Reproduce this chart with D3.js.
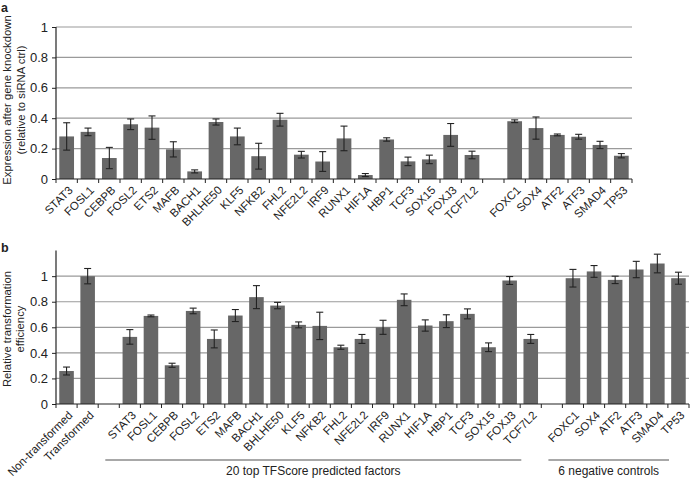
<!DOCTYPE html>
<html><head><meta charset="utf-8">
<script src="https://cdn.jsdelivr.net/npm/d3@7"></script>
<style>
body{margin:0;background:#fff;}
text{font-family:"Liberation Sans",Arial,sans-serif;fill:#222;}
</style></head>
<body><svg id="c" width="690" height="478"></svg>
<script>
// Panel a data
const catsA = ["STAT3","FOSL1","CEBPB","FOSL2","ETS2","MAFB","BACH1","BHLHE50","KLF5","NFKB2","FHL2","NFE2L2","IRF9","RUNX1","HIF1A","HBP1","TCF3","SOX15","FOXJ3","TCF7L2","","FOXC1","SOX4","ATF2","ATF3","SMAD4","TP53"];
const valsA = [0.28,0.31,0.138,0.36,0.338,0.195,0.05,0.375,0.28,0.15,0.39,0.16,0.115,0.267,0.026,0.26,0.116,0.129,0.29,0.158,null,0.38,0.335,0.29,0.278,0.224,0.153];
const errA  = [0.09,0.025,0.07,0.035,0.077,0.05,0.01,0.02,0.055,0.085,0.042,0.022,0.065,0.081,0.01,0.011,0.028,0.028,0.075,0.025,null,0.009,0.073,0.006,0.016,0.024,0.014];
const ticksA = [0,0.2,0.4,0.6,0.8,1];
// Panel b data
const catsB = ["Non-transformed","Transformed","","STAT3","FOSL1","CEBPB","FOSL2","ETS2","MAFB","BACH1","BHLHE50","KLF5","NFKB2","FHL2","NFE2L2","IRF9","RUNX1","HIF1A","HBP1","TCF3","SOX15","FOXJ3","TCF7L2","","FOXC1","SOX4","ATF2","ATF3","SMAD4","TP53"];
const valsB = [0.258,1.0,null,0.525,0.689,0.303,0.728,0.509,0.692,0.836,0.77,0.619,0.611,0.444,0.509,0.6,0.815,0.614,0.648,0.705,0.444,0.966,0.509,null,0.984,1.037,0.971,1.052,1.099,0.984];
const errB  = [0.031,0.06,null,0.057,0.007,0.016,0.022,0.07,0.047,0.09,0.025,0.023,0.107,0.016,0.035,0.055,0.046,0.044,0.05,0.039,0.034,0.031,0.035,null,0.069,0.046,0.029,0.064,0.073,0.047];
const ticksB = [0,0.2,0.4,0.6,0.8,1];
const groupsB = [
  {label:"20 top TFScore predicted factors", from:"STAT3", to:"TCF7L2"},
  {label:"6 negative controls", from:"FOXC1", to:"TP53"}
];

const svg = d3.select("#c");
const barColor = "#676767";

function panel(cfg){
  const g = svg.append("g");
  const idx = cfg.cats.map((d,i)=>i);
  const x = d3.scaleBand().domain(idx).range([cfg.x0,cfg.x1]).paddingInner(0.31).paddingOuter(0.155);
  const step = x.step();
  const y = d3.scaleLinear().domain(cfg.ydom).range(cfg.yr);
  g.selectAll(".grid").data(cfg.ticks.filter(t=>t>0)).enter().append("line")
    .attr("x1",cfg.x0).attr("x2",cfg.x1).attr("y1",d=>y(d)).attr("y2",d=>y(d))
    .attr("stroke","#9a9a9a").attr("stroke-width",1.2);
  const data = idx.filter(i=>cfg.vals[i]!=null);
  g.selectAll(".bar").data(data).enter().append("rect")
    .attr("x",i=>x(i)).attr("width",x.bandwidth())
    .attr("y",i=>y(cfg.vals[i])).attr("height",i=>y(0)-y(cfg.vals[i]))
    .attr("fill",barColor);
  const eg = g.selectAll(".err").data(data).enter().append("g").attr("stroke","#222").attr("stroke-width",1.1);
  const cx = i=>x(i)+x.bandwidth()/2;
  eg.append("line").attr("x1",cx).attr("x2",cx).attr("y1",i=>y(cfg.vals[i]+cfg.errs[i])).attr("y2",i=>y(cfg.vals[i]-cfg.errs[i]));
  eg.append("line").attr("x1",i=>cx(i)-3.5).attr("x2",i=>cx(i)+3.5).attr("y1",i=>y(cfg.vals[i]+cfg.errs[i])).attr("y2",i=>y(cfg.vals[i]+cfg.errs[i]));
  eg.append("line").attr("x1",i=>cx(i)-3.5).attr("x2",i=>cx(i)+3.5).attr("y1",i=>y(cfg.vals[i]-cfg.errs[i])).attr("y2",i=>y(cfg.vals[i]-cfg.errs[i]));
  const ya = d3.axisLeft(y).tickValues(cfg.ticks).tickFormat(d=>d3.format("~g")(d)).tickSize(4).tickPadding(4);
  const yg = g.append("g").attr("transform",`translate(${cfg.x0},0)`).call(ya);
  yg.select(".domain").attr("d",`M0,${cfg.yr[1]}V${cfg.yr[0]}`).attr("stroke","#222").attr("stroke-width",1.2);
  yg.selectAll(".tick line").attr("stroke","#222");
  yg.selectAll(".tick text").attr("font-size",13).style("fill","#222");
  const xg = g.append("g");
  xg.append("line").attr("x1",cfg.x0).attr("x2",cfg.x1).attr("y1",y(0)).attr("y2",y(0)).attr("stroke","#222").attr("stroke-width",1.2);
  const bounds = d3.range(cfg.cats.length+1).map(k=>cfg.x0+k*step);
  xg.selectAll(".xt").data(bounds).enter().append("line")
    .attr("x1",d=>d).attr("x2",d=>d).attr("y1",y(0)).attr("y2",y(0)+4).attr("stroke","#222").attr("stroke-width",1);
  xg.selectAll(".xl").data(idx.filter(i=>cfg.cats[i]!=="")).enter().append("text")
    .attr("transform",i=>`translate(${cx(i)+4},${y(0)+9}) rotate(-45)`)
    .attr("text-anchor","end").attr("dy","0.35em").attr("font-size",11.5).text(i=>cfg.cats[i]);
  cfg.title.forEach((t,k)=>{
    g.append("text").attr("transform",`translate(${cfg.titleX+k*13.5},${cfg.titleY}) rotate(-90)`)
      .attr("text-anchor","middle").attr("dy","0.35em").attr("font-size",11.3).text(t);
  });
  g.append("text").attr("x",1).attr("y",cfg.letterY).attr("font-size",12.5).attr("font-weight","bold").text(cfg.letter);
  return {x,y,step};
}

panel({cats:catsA,vals:valsA,errs:errA,ticks:ticksA,x0:56,x1:632,ydom:[0,1],yr:[179,27],
  title:["Expression after gene knockdown","(relative to siRNA ctrl)"],titleX:7.3,titleY:100,letter:"a",letterY:11.5});
const pb = panel({cats:catsB,vals:valsB,errs:errB,ticks:ticksB,x0:56,x1:689,ydom:[0,1.2],yr:[404,250.6],
  title:["Relative transformation","efficiency"],titleX:7,titleY:329,letter:"b",letterY:252});

groupsB.forEach(gr=>{
  const a = 56 + catsB.indexOf(gr.from)*pb.step - 14;
  const b = 56 + (catsB.indexOf(gr.to)+1)*pb.step - 20;
  svg.append("line").attr("x1",a).attr("x2",b).attr("y1",460).attr("y2",460).attr("stroke","#a8a8a8").attr("stroke-width",2.2);
  svg.append("text").attr("x",(a+b)/2).attr("y",475).attr("text-anchor","middle").attr("font-size",12).text(gr.label);
});
</script></body></html>
